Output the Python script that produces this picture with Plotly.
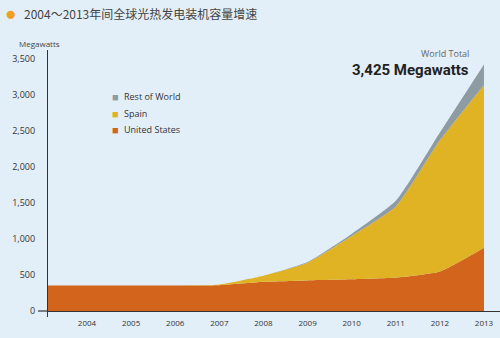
import plotly.graph_objects as go

years = [2003, 2004, 2005, 2006, 2007, 2008, 2009, 2010, 2011, 2012, 2013]
us = [355, 355, 355, 355, 358, 405, 425, 440, 465, 550, 880]
spain = [0, 0, 0, 0, 10, 85, 245, 600, 985, 1820, 2260]
rest = [0, 0, 0, 0, 0, 0, 10, 30, 80, 110, 285]
tick_years = [2004, 2005, 2006, 2007, 2008, 2009, 2010, 2011, 2012, 2013]
y_ticks = [0, 500, 1000, 1500, 2000, 2500, 3000, 3500]
series_names = ["Rest of World", "Spain", "United States"]
colors = {"United States": "#d2641b", "Spain": "#dfb324", "Rest of World": "#8e9ba3"}
title = "2004～2013年间全球光热发电装机容量增速"
total_label = "3,425 Megawatts"

BG = "#e3eff8"
W = 452.0  # plot width in px (for paper offsets)

fig = go.Figure()
for name, vals in [("United States", us), ("Spain", spain), ("Rest of World", rest)]:
    fig.add_trace(go.Scatter(
        x=years, y=vals, name=name, stackgroup="one", mode="lines",
        line=dict(width=0, color=colors[name], shape="spline", smoothing=0.5),
        fillcolor=colors[name], showlegend=False, hoverinfo="x+y+name"))

fig.update_layout(
    width=500, height=338, paper_bgcolor=BG, plot_bgcolor=BG,
    margin=dict(l=48, r=0, t=50, b=21),
    xaxis=dict(range=[2003.116, 2013.363], tickmode="array", tickvals=tick_years,
               ticktext=[str(y) for y in tick_years], showgrid=False, zeroline=False,
               showline=False, ticks="", tickfont=dict(family="Open Sans", size=8, color="#333")),
    yaxis=dict(range=[-83.3, 3625], tickmode="array", tickvals=y_ticks, tickformat=",d",
               showgrid=False, zeroline=True, zerolinecolor="#333", zerolinewidth=1.2,
               showline=True, linecolor="#333", linewidth=1.2, ticks="",
               ticklabelstandoff=10,
               tickfont=dict(family="Open Sans", size=9, color="#333")),
    font=dict(family="Open Sans"),
)

# small tick left of zero
fig.add_shape(type="line", xref="paper", yref="y", x0=-0.022, x1=0, y0=0, y1=0,
              line=dict(color="#333", width=1.2))

# title
fig.add_annotation(xref="paper", yref="paper", x=(10 - 48) / W, y=1.0, text="●",
                   showarrow=False, font=dict(size=19, color="#f0a21e"),
                   xanchor="center", yanchor="middle", yshift=37)
fig.add_annotation(text=title, xref="paper", yref="paper", x=(22 - 48) / W, y=1.0,
                   xanchor="left", yanchor="middle", showarrow=False, yshift=37,
                   font=dict(family="Noto Sans CJK SC", size=12, color="#444"))

fig.add_annotation(text="Megawatts", xref="paper", yref="paper", x=(17 - 48) / W, y=1.0,
                   xanchor="left", yanchor="middle", showarrow=False, yshift=7,
                   font=dict(family="Open Sans", size=8, color="#444"))

# custom legend
for i, name in enumerate(series_names):
    yv = 2975 - i * 225
    fig.add_annotation(text="■", xref="x", yref="y", x=2004.52, y=yv, showarrow=False,
                       xanchor="left", yanchor="middle",
                       font=dict(size=11, color=colors[name]))
    fig.add_annotation(text=name, xref="x", yref="y", x=2004.79, y=yv, showarrow=False,
                       xanchor="left", yanchor="middle",
                       font=dict(family="Open Sans", size=9, color="#333"))

fig.add_annotation(text="World Total", xref="x", yref="y", x=2012.7, y=3580,
                   xanchor="right", yanchor="middle", showarrow=False,
                   font=dict(family="Open Sans", size=9, color="#666"))
fig.add_annotation(text="<b>" + total_label + "</b>", xref="x", yref="y", x=2012.7, y=3350,
                   xanchor="right", yanchor="middle", showarrow=False,
                   font=dict(family="Roboto", size=15, color="#222"))

fig.write_html("out.html")
